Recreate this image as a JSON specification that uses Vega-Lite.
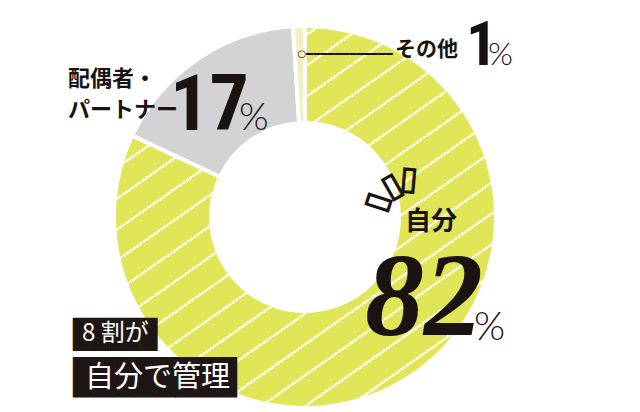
{
  "$schema": "https://vega.github.io/schema/vega-lite/v6.json",
  "width": 610,
  "height": 434,
  "autosize": {"type": "none"},
  "padding": 0,
  "config": {"view": {"stroke": null}},
  "data": {
    "values": [
      {"cat": "自分", "share": 82},
      {"cat": "配偶者・パートナー", "share": 17},
      {"cat": "その他", "share": 1}
    ]
  },
  "encoding": {
    "theta": {"field": "share", "type": "quantitative", "stack": true},
    "order": {"field": "share", "sort": "descending"}
  },
  "layer": [
    {
      "mark": {"type": "arc", "outerRadius": 191, "innerRadius": 94, "stroke": "white", "strokeWidth": 4},
      "encoding": {
        "color": {
          "field": "cat",
          "type": "nominal",
          "scale": {"domain": ["自分", "配偶者・パートナー", "その他"], "range": ["#e1e558", "#d3d3d5", "#eef0c2"]},
          "legend": null
        }
      }
    },
    {
      "mark": {
        "type": "arc", "outerRadius": 191, "innerRadius": 94, "stroke": "white", "strokeWidth": 4,
        "fill": {
          "gradient": "linear", "x1": 0, "y1": 0, "x2": 0.8, "y2": 1.14,
          "stops": [
            {"offset": 0, "color": "#e1e558"},
            {"offset": 0.02897, "color": "#e1e558"}, {"offset": 0.02897, "color": "#f8f8d0"}, {"offset": 0.03397, "color": "#f8f8d0"}, {"offset": 0.03397, "color": "#e1e558"},
            {"offset": 0.07645, "color": "#e1e558"}, {"offset": 0.07645, "color": "#f8f8d0"}, {"offset": 0.08145, "color": "#f8f8d0"}, {"offset": 0.08145, "color": "#e1e558"},
            {"offset": 0.12393, "color": "#e1e558"}, {"offset": 0.12393, "color": "#f8f8d0"}, {"offset": 0.12893, "color": "#f8f8d0"}, {"offset": 0.12893, "color": "#e1e558"},
            {"offset": 0.17142, "color": "#e1e558"}, {"offset": 0.17142, "color": "#f8f8d0"}, {"offset": 0.17642, "color": "#f8f8d0"}, {"offset": 0.17642, "color": "#e1e558"},
            {"offset": 0.21890, "color": "#e1e558"}, {"offset": 0.21890, "color": "#f8f8d0"}, {"offset": 0.22390, "color": "#f8f8d0"}, {"offset": 0.22390, "color": "#e1e558"},
            {"offset": 0.26638, "color": "#e1e558"}, {"offset": 0.26638, "color": "#f8f8d0"}, {"offset": 0.27138, "color": "#f8f8d0"}, {"offset": 0.27138, "color": "#e1e558"},
            {"offset": 0.31387, "color": "#e1e558"}, {"offset": 0.31387, "color": "#f8f8d0"}, {"offset": 0.31887, "color": "#f8f8d0"}, {"offset": 0.31887, "color": "#e1e558"},
            {"offset": 0.36135, "color": "#e1e558"}, {"offset": 0.36135, "color": "#f8f8d0"}, {"offset": 0.36635, "color": "#f8f8d0"}, {"offset": 0.36635, "color": "#e1e558"},
            {"offset": 0.40883, "color": "#e1e558"}, {"offset": 0.40883, "color": "#f8f8d0"}, {"offset": 0.41383, "color": "#f8f8d0"}, {"offset": 0.41383, "color": "#e1e558"},
            {"offset": 0.45632, "color": "#e1e558"}, {"offset": 0.45632, "color": "#f8f8d0"}, {"offset": 0.46132, "color": "#f8f8d0"}, {"offset": 0.46132, "color": "#e1e558"},
            {"offset": 0.50380, "color": "#e1e558"}, {"offset": 0.50380, "color": "#f8f8d0"}, {"offset": 0.50880, "color": "#f8f8d0"}, {"offset": 0.50880, "color": "#e1e558"},
            {"offset": 0.55128, "color": "#e1e558"}, {"offset": 0.55128, "color": "#f8f8d0"}, {"offset": 0.55628, "color": "#f8f8d0"}, {"offset": 0.55628, "color": "#e1e558"},
            {"offset": 0.59877, "color": "#e1e558"}, {"offset": 0.59877, "color": "#f8f8d0"}, {"offset": 0.60377, "color": "#f8f8d0"}, {"offset": 0.60377, "color": "#e1e558"},
            {"offset": 0.64625, "color": "#e1e558"}, {"offset": 0.64625, "color": "#f8f8d0"}, {"offset": 0.65125, "color": "#f8f8d0"}, {"offset": 0.65125, "color": "#e1e558"},
            {"offset": 0.69373, "color": "#e1e558"}, {"offset": 0.69373, "color": "#f8f8d0"}, {"offset": 0.69873, "color": "#f8f8d0"}, {"offset": 0.69873, "color": "#e1e558"},
            {"offset": 0.74122, "color": "#e1e558"}, {"offset": 0.74122, "color": "#f8f8d0"}, {"offset": 0.74622, "color": "#f8f8d0"}, {"offset": 0.74622, "color": "#e1e558"},
            {"offset": 0.78870, "color": "#e1e558"}, {"offset": 0.78870, "color": "#f8f8d0"}, {"offset": 0.79370, "color": "#f8f8d0"}, {"offset": 0.79370, "color": "#e1e558"},
            {"offset": 0.83618, "color": "#e1e558"}, {"offset": 0.83618, "color": "#f8f8d0"}, {"offset": 0.84118, "color": "#f8f8d0"}, {"offset": 0.84118, "color": "#e1e558"},
            {"offset": 0.88367, "color": "#e1e558"}, {"offset": 0.88367, "color": "#f8f8d0"}, {"offset": 0.88867, "color": "#f8f8d0"}, {"offset": 0.88867, "color": "#e1e558"},
            {"offset": 0.93115, "color": "#e1e558"}, {"offset": 0.93115, "color": "#f8f8d0"}, {"offset": 0.93615, "color": "#f8f8d0"}, {"offset": 0.93615, "color": "#e1e558"},
            {"offset": 0.97863, "color": "#e1e558"}, {"offset": 0.97863, "color": "#f8f8d0"}, {"offset": 0.98363, "color": "#f8f8d0"}, {"offset": 0.98363, "color": "#e1e558"},
            {"offset": 1, "color": "#e1e558"}
          ]
        }
      },
      "encoding": {
        "opacity": {"condition": {"test": "datum.cat === '自分'", "value": 1}, "value": 0}
      }
    },
    {
      "mark": {"type": "text", "radius": 200, "dx": -124.6, "dy": 27.4, "align": "left", "baseline": "middle", "font": "Noto Sans CJK JP", "fontSize": 22, "fontWeight": "bold", "color": "#1a1311"},
      "encoding": {"text": {"condition": {"test": "datum.cat === '配偶者・パートナー'", "value": "配偶者・"}, "value": ""}}
    },
    {
      "mark": {"type": "text", "radius": 200, "dx": -124.6, "dy": 58.4, "align": "left", "baseline": "middle", "font": "Noto Sans CJK JP", "fontSize": 22, "fontWeight": "bold", "color": "#1a1311"},
      "encoding": {"text": {"condition": {"test": "datum.cat === '配偶者・パートナー'", "value": "パートナー"}, "value": ""}}
    },
    {
      "mark": {"type": "text", "radius": 200, "dx": -22.6, "dy": 78.4, "align": "left", "baseline": "alphabetic", "font": "Liberation Sans Narrow, Roboto Condensed, DejaVu Sans Condensed, sans-serif", "fontSize": 78, "fontWeight": "bold", "color": "#1a1311"},
      "encoding": {"text": {"condition": {"test": "datum.cat === '配偶者・パートナー'", "field": "share", "type": "quantitative"}, "value": ""}}
    },
    {
      "mark": {"type": "text", "radius": 200, "dx": 46.4, "dy": 78.4, "align": "left", "baseline": "alphabetic", "font": "Lato", "fontSize": 38, "fontWeight": 300, "color": "#1a1311"},
      "encoding": {"text": {"condition": {"test": "datum.cat === '配偶者・パートナー'", "value": "%"}, "value": ""}}
    },
    {
      "mark": {"type": "text", "radius": 163, "dx": 2.1, "dy": 0, "align": "center", "baseline": "middle", "font": "DejaVu Sans", "fontSize": 10, "color": "#1a1311"},
      "encoding": {"text": {"condition": {"test": "datum.cat === 'その他'", "value": "○"}, "value": ""}}
    },
    {
      "mark": {"type": "text", "radius": 163, "dx": 6.1, "dy": 0, "align": "left", "baseline": "middle", "font": "DejaVu Sans Mono", "fontSize": 12, "color": "#1a1311"},
      "encoding": {"text": {"condition": {"test": "datum.cat === 'その他'", "value": "━━━━━━━━━━━━"}, "value": ""}}
    },
    {
      "mark": {"type": "text", "radius": 163, "dx": 95.1, "dy": -4.1, "align": "left", "baseline": "middle", "font": "Noto Sans CJK JP", "fontSize": 21, "fontWeight": "bold", "color": "#1a1311"},
      "encoding": {"text": {"condition": {"test": "datum.cat === 'その他'", "field": "cat", "type": "nominal"}, "value": ""}}
    },
    {
      "mark": {"type": "text", "radius": 163, "dx": 166.1, "dy": 10.9, "align": "left", "baseline": "alphabetic", "font": "Liberation Sans Narrow, Roboto Condensed, DejaVu Sans Condensed, sans-serif", "fontSize": 62, "fontWeight": "bold", "color": "#1a1311"},
      "encoding": {"text": {"condition": {"test": "datum.cat === 'その他'", "field": "share", "type": "quantitative"}, "value": ""}}
    },
    {
      "mark": {"type": "text", "radius": 163, "dx": 188.1, "dy": 10.9, "align": "left", "baseline": "alphabetic", "font": "Lato", "fontSize": 32, "fontWeight": 300, "color": "#1a1311"},
      "encoding": {"text": {"condition": {"test": "datum.cat === 'その他'", "value": "%"}, "value": ""}}
    },
    {
      "mark": {"type": "text", "radius": 150, "dx": 19.6, "dy": -122, "align": "left", "baseline": "middle", "font": "Noto Sans CJK JP", "fontSize": 26, "fontWeight": "bold", "color": "#1a1311"},
      "encoding": {"text": {"condition": {"test": "datum.cat === '自分'", "field": "cat", "type": "nominal"}, "value": ""}}
    },
    {
      "mark": {"type": "text", "radius": 150, "dx": -20.4, "dy": -8.6, "align": "left", "baseline": "alphabetic", "font": "Liberation Serif", "fontStyle": "italic", "fontWeight": "bold", "fontSize": 118, "color": "#1a1311"},
      "encoding": {"text": {"condition": {"test": "datum.cat === '自分'", "field": "share", "type": "quantitative"}, "value": ""}}
    },
    {
      "mark": {"type": "text", "radius": 150, "dx": 88.6, "dy": -3.6, "align": "left", "baseline": "alphabetic", "font": "Lato", "fontSize": 40, "fontWeight": 300, "color": "#1a1311"},
      "encoding": {"text": {"condition": {"test": "datum.cat === '自分'", "value": "%"}, "value": ""}}
    },
    {
      "mark": {"type": "text", "radius": 0, "dx": 100.3, "dy": -46.9, "angle": 5, "align": "center", "baseline": "middle", "font": "DejaVu Sans", "fontWeight": "bold", "fontSize": 32, "stroke": "#1a1311", "strokeWidth": 1.3, "color": "#1a1311"},
      "encoding": {"text": {"condition": {"test": "datum.cat === '自分'", "value": "▯"}, "value": ""}}
    },
    {
      "mark": {"type": "text", "radius": 0, "dx": 90.8, "dy": 16.7, "angle": -30, "align": "center", "baseline": "middle", "font": "DejaVu Sans", "fontWeight": "bold", "fontSize": 32, "stroke": "#1a1311", "strokeWidth": 1.3, "color": "#1a1311"},
      "encoding": {"text": {"condition": {"test": "datum.cat === '自分'", "value": "▯"}, "value": ""}}
    },
    {
      "mark": {"type": "text", "radius": 0, "dx": 36.5, "dy": 63.9, "angle": -72, "align": "center", "baseline": "middle", "font": "DejaVu Sans", "fontWeight": "bold", "fontSize": 32, "stroke": "#1a1311", "strokeWidth": 1.3, "color": "#1a1311"},
      "encoding": {"text": {"condition": {"test": "datum.cat === '自分'", "value": "▯"}, "value": ""}}
    },
    {
      "mark": {"type": "text", "radius": 0, "dx": -232, "dy": 127, "align": "left", "baseline": "alphabetic", "font": "DejaVu Sans Mono", "fontSize": 28, "color": "#1e1614"},
      "encoding": {"text": {"condition": {"test": "datum.cat === '自分'", "value": "█████"}, "value": ""}}
    },
    {
      "mark": {"type": "text", "radius": 0, "dx": -232, "dy": 172, "align": "left", "baseline": "alphabetic", "font": "DejaVu Sans Mono", "fontSize": 34, "color": "#1e1614"},
      "encoding": {"text": {"condition": {"test": "datum.cat === '自分'", "value": "████████"}, "value": ""}}
    },
    {
      "mark": {"type": "text", "radius": 0, "dx": -223, "dy": 117, "align": "left", "baseline": "middle", "font": "Noto Sans CJK JP", "fontSize": 24, "color": "white"},
      "encoding": {"text": {"condition": {"test": "datum.cat === '自分'", "value": "8 割が"}, "value": ""}}
    },
    {
      "mark": {"type": "text", "radius": 0, "dx": -220, "dy": 161, "align": "left", "baseline": "middle", "font": "Noto Sans CJK JP", "fontSize": 29, "color": "white"},
      "encoding": {"text": {"condition": {"test": "datum.cat === '自分'", "value": "自分で管理"}, "value": ""}}
    }
  ]
}
